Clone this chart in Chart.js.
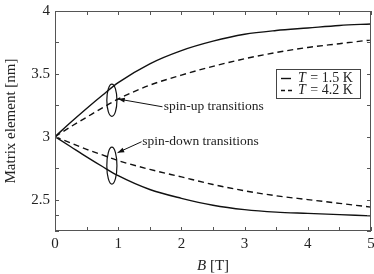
<!DOCTYPE html>
<html><head><meta charset="utf-8">
<script src="https://cdn.jsdelivr.net/npm/chart.js@4"></script>
<style>html,body{margin:0;padding:0;background:#fff}#wrap{width:374px;height:274px}</style>
</head><body><div id="wrap"><canvas id="c" width="374" height="274"></canvas></div>
<script>
const B = [0, 0.25, 0.5, 0.75, 1, 1.5, 2, 2.5, 3, 3.5, 4, 4.5, 5];
const upT15   = [3.0, 3.115, 3.225, 3.33, 3.43, 3.58, 3.685, 3.76, 3.815, 3.845, 3.865, 3.885, 3.897];
const upT42   = [3.0, 3.08, 3.155, 3.23, 3.30, 3.41, 3.49, 3.56, 3.62, 3.67, 3.71, 3.74, 3.77];
const downT15 = [3.0, 2.92, 2.84, 2.763, 2.69, 2.58, 2.51, 2.455, 2.42, 2.40, 2.39, 2.38, 2.37];
const downT42 = [3.0, 2.95, 2.90, 2.855, 2.81, 2.74, 2.68, 2.62, 2.57, 2.53, 2.50, 2.47, 2.44];
const xTicks = [0, 1, 2, 3, 4, 5];
const yTicks = [2.5, 3, 3.5, 4];
const legendLabels = ['T = 1.5 K', 'T = 4.2 K'];

const FONT = "'Liberation Serif', 'Times New Roman', serif";
const pts = arr => B.map((b, i) => ({x: b, y: arr[i]}));
const solid = {borderColor: '#111', borderWidth: 1.4, pointRadius: 0, fill: false, cubicInterpolationMode: 'monotone'};
const dashed = Object.assign({}, solid, {borderDash: [6, 4]});

const deco = {
  id: 'deco',
  afterDraw(chart) {
    const ctx = chart.ctx, a = chart.chartArea, xs = chart.scales.x, ys = chart.scales.y;
    ctx.save();
    ctx.strokeStyle = '#555'; ctx.lineWidth = 1;
    ctx.strokeRect(a.left + 0.5, a.top + 0.5, a.right - a.left - 1, a.bottom - a.top - 1);
    const L = 4;
    ctx.beginPath();
    for (let i = 0; i < xTicks.length; i++) {
      const vals = [xTicks[i]];
      if (i < xTicks.length - 1) vals.push((xTicks[i] + xTicks[i + 1]) / 2);
      vals.forEach(v => {
        const p = Math.round(xs.getPixelForValue(v)) + 0.5;
        ctx.moveTo(p, a.bottom); ctx.lineTo(p, a.bottom - L);
        ctx.moveTo(p, a.top); ctx.lineTo(p, a.top + L);
      });
    }
    const yAll = [2.25].concat(yTicks);
    for (let i = 0; i < yAll.length; i++) {
      const vals = [yAll[i]];
      if (i < yAll.length - 1) vals.push((yAll[i] + yAll[i + 1]) / 2);
      vals.forEach(v => {
        const p = Math.round(ys.getPixelForValue(v)) + 0.5;
        ctx.moveTo(a.left, p); ctx.lineTo(a.left + L, p);
        ctx.moveTo(a.right, p); ctx.lineTo(a.right - L, p);
      });
    }
    ctx.stroke();

    ctx.strokeStyle = '#111'; ctx.lineWidth = 1.2;
    const ell = (bx, by, rb, ry) => {
      const cx = xs.getPixelForValue(bx), cy = ys.getPixelForValue(by);
      const rx = Math.abs(xs.getPixelForValue(bx + rb) - cx), rY = Math.abs(ys.getPixelForValue(by + ry) - cy);
      ctx.beginPath(); ctx.ellipse(cx, cy, rx, rY, 0, 0, Math.PI * 2); ctx.stroke();
    };
    ell(0.9, 3.29, 0.08, 0.128);
    ell(0.9, 2.77, 0.08, 0.147);

    const arrow = (b0, y0, b1, y1) => {
      const x0 = xs.getPixelForValue(b0), p0 = ys.getPixelForValue(y0);
      const x1 = xs.getPixelForValue(b1), p1 = ys.getPixelForValue(y1);
      ctx.beginPath(); ctx.moveTo(x0, p0); ctx.lineTo(x1, p1); ctx.stroke();
      const ang = Math.atan2(p1 - p0, x1 - x0), h = 7, w = 0.35;
      ctx.beginPath();
      ctx.moveTo(x1, p1);
      ctx.lineTo(x1 - h * Math.cos(ang - w), p1 - h * Math.sin(ang - w));
      ctx.lineTo(x1 - h * Math.cos(ang + w), p1 - h * Math.sin(ang + w));
      ctx.closePath(); ctx.fillStyle = '#111'; ctx.fill();
    };
    ctx.lineWidth = 1;
    arrow(1.70, 3.238, 1.0, 3.30);
    arrow(1.37, 2.96, 0.99, 2.873);

    ctx.fillStyle = '#222';
    ctx.font = '13.5px ' + FONT;
    ctx.textBaseline = 'middle'; ctx.textAlign = 'left';
    ctx.fillText('spin-up transitions', xs.getPixelForValue(1.72), ys.getPixelForValue(3.238));
    ctx.fillText('spin-down transitions', xs.getPixelForValue(1.38), ys.getPixelForValue(2.965));

    const lx = 276, ly = 69, lw = 84, lh = 29;
    ctx.fillStyle = '#fff'; ctx.fillRect(lx, ly, lw, lh);
    ctx.strokeStyle = '#444'; ctx.lineWidth = 1;
    ctx.strokeRect(lx + 0.5, ly + 0.5, lw, lh);
    const rows = [ly + 9.5, ly + 21.5];
    ctx.strokeStyle = '#111'; ctx.lineWidth = 1.4;
    ctx.beginPath(); ctx.moveTo(lx + 5, rows[0]); ctx.lineTo(lx + 15, rows[0]); ctx.stroke();
    ctx.setLineDash([4, 3]);
    ctx.beginPath(); ctx.moveTo(lx + 5, rows[1]); ctx.lineTo(lx + 16, rows[1]); ctx.stroke();
    ctx.setLineDash([]);
    ctx.fillStyle = '#222';
    legendLabels.forEach((t, i) => {
      const parts = t.split(' ');
      let x = lx + 22;
      ctx.font = 'italic 14px ' + FONT;
      ctx.fillText(parts[0], x, rows[i]);
      x += ctx.measureText(parts[0]).width + 1;
      ctx.font = '14px ' + FONT;
      ctx.fillText(' ' + parts.slice(1).join(' '), x, rows[i]);
    });

    ctx.font = 'italic 15px ' + FONT;
    const t1 = 'B', t2 = ' [T]';
    const w1 = ctx.measureText(t1).width;
    ctx.font = '15px ' + FONT;
    const w2 = ctx.measureText(t2).width;
    const cx = (a.left + a.right) / 2 - (w1 + w2) / 2;
    ctx.font = 'italic 15px ' + FONT;
    ctx.fillText(t1, cx, 266);
    ctx.font = '15px ' + FONT;
    ctx.fillText(t2, cx + w1, 266);
    ctx.restore();
  }
};

new Chart(document.getElementById('c'), {
  type: 'line',
  data: {
    datasets: [
      Object.assign({label: 'up 1.5', data: pts(upT15)}, solid),
      Object.assign({label: 'up 4.2', data: pts(upT42)}, dashed),
      Object.assign({label: 'down 1.5', data: pts(downT15)}, solid),
      Object.assign({label: 'down 4.2', data: pts(downT42)}, dashed)
    ]
  },
  options: {
    responsive: false, animation: false, devicePixelRatio: 1,
    layout: {padding: {top: 11, right: 3, left: 0, bottom: 0}},
    plugins: {legend: {display: false}, tooltip: {enabled: false}},
    scales: {
      x: {
        type: 'linear', min: 0, max: 5,
        afterBuildTicks: s => { s.ticks = xTicks.map(v => ({value: v})); },
        afterFit: s => { s.height = 43; s.paddingLeft = 0; s.paddingRight = 0; },
        grid: {display: false, drawTicks: false},
        border: {display: false},
        ticks: {padding: 4, color: '#222', font: {family: FONT, size: 15}, callback: v => String(v)}
      },
      y: {
        type: 'linear', min: 2.25, max: 4,
        afterBuildTicks: s => { s.ticks = yTicks.map(v => ({value: v})); },
        afterFit: s => { s.width = 55; s.paddingTop = 0; s.paddingBottom = 0; },
        grid: {display: false, drawTicks: false},
        border: {display: false},
        title: {display: true, text: 'Matrix element [nm]', color: '#222', font: {family: FONT, size: 15}, padding: {top: 2, bottom: 0}},
        ticks: {padding: 5, color: '#222', font: {family: FONT, size: 15}, callback: v => String(v)}
      }
    }
  },
  plugins: [deco]
});
</script></body></html>
